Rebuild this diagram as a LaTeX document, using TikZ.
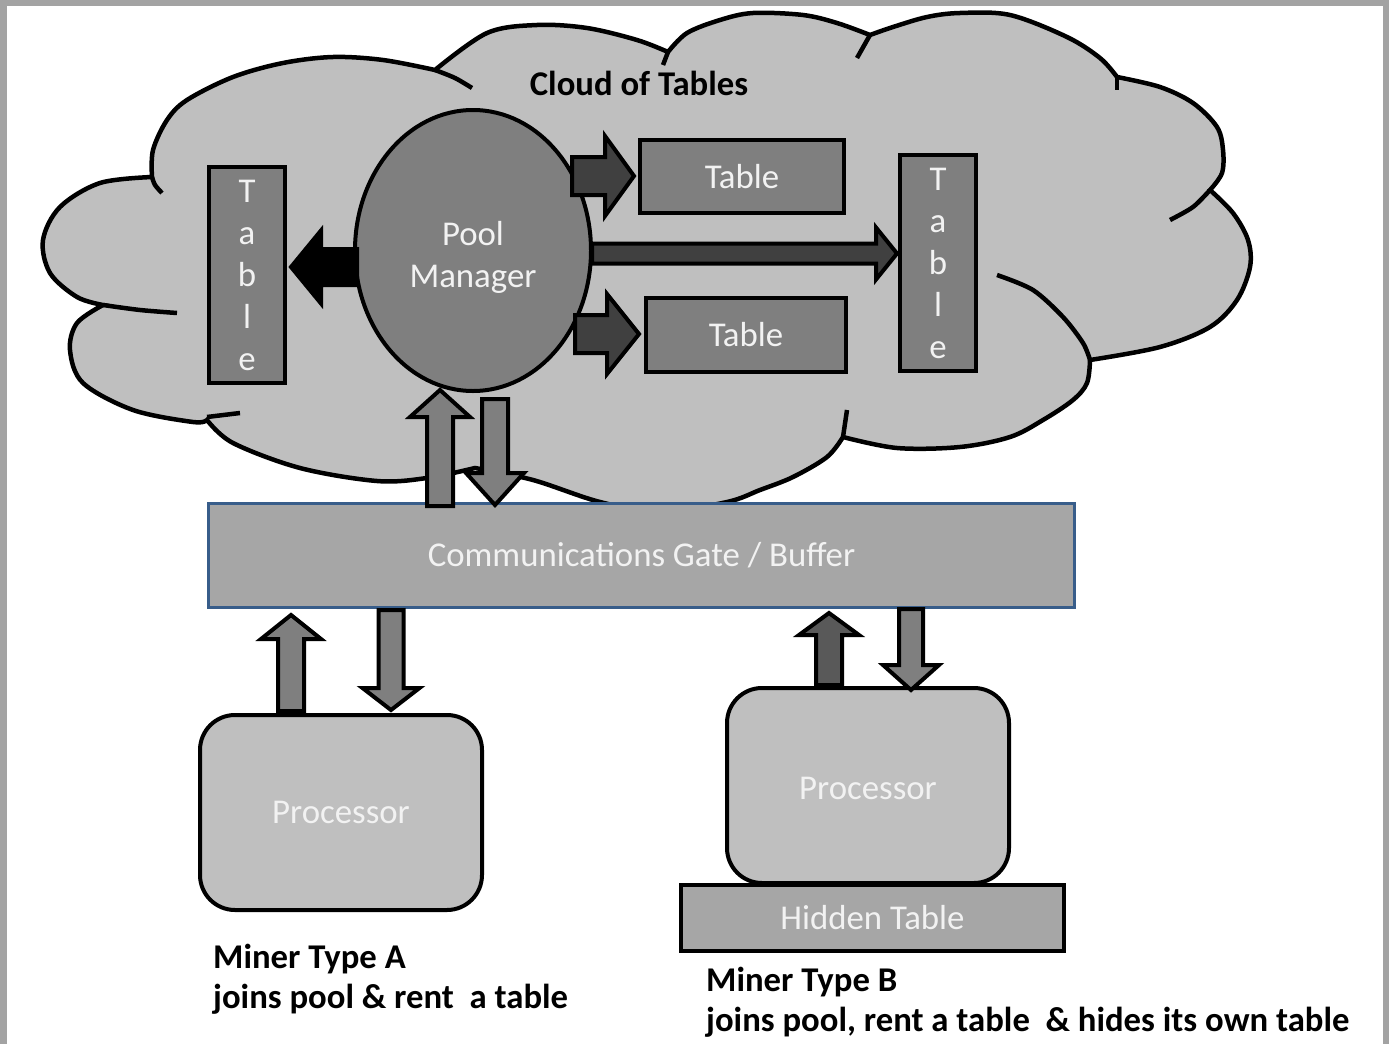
\documentclass[tikz,border=0pt]{standalone}
\usepackage{fontspec}
\setmainfont{Carlito}
\usetikzlibrary{shapes.geometric}
\definecolor{cloudgray}{HTML}{BFBFBF}
\definecolor{midgray}{HTML}{7F7F7F}
\definecolor{deepgray}{HTML}{404040}
\definecolor{arrowdark}{HTML}{595959}
\definecolor{gategray}{HTML}{A6A6A6}
\definecolor{gateblue}{HTML}{385D8A}
\definecolor{framegray}{HTML}{A3A3A3}
\definecolor{labelwhite}{HTML}{F2F2F2}
% horizontal block arrow: style, tail x, tip x, centre y, body half, head half, head base x
\newcommand{\blockH}[7]{\draw[#1] (#2,#4-#5) -- (#7,#4-#5) -- (#7,#4-#6) -- (#3,#4) -- (#7,#4+#6) -- (#7,#4+#5) -- (#2,#4+#5) -- cycle;}
% vertical block arrow: style, tail y, tip y, centre x, body half, head half, head base y
\newcommand{\blockV}[7]{\draw[#1] (#4-#5,#2) -- (#4-#5,#7) -- (#4-#6,#7) -- (#4,#3) -- (#4+#6,#7) -- (#4+#5,#7) -- (#4+#5,#2) -- cycle;}
\begin{document}
\begin{tikzpicture}[x=1pt,y=-1pt,
  cloudline/.style={draw=black, line width=4.5pt},
  outline/.style={draw=black, line width=4pt, line join=miter},
  lbl/.style={text=labelwhite, font=\fontsize{34.8}{42}\selectfont, align=center},
  tablebox/.style={outline, fill=midgray, rectangle, inner sep=0pt, lbl},
  procbox/.style={outline, fill=cloudgray, rectangle, rounded corners=35pt, inner sep=0pt, lbl, minimum width=282pt, minimum height=195pt},
  arrowgray/.style={outline, fill=midgray},
  arrowdeep/.style={outline, fill=deepgray},
  arrowblack/.style={outline, fill=black},
  arrowdim/.style={outline, fill=arrowdark},
  caption/.style={font=\fontsize{34.7}{40}\selectfont\bfseries, text=black, inner sep=0pt, anchor=base west},
]
\useasboundingbox (0,0) rectangle (1389,1044);
% frame
\fill[framegray] (0,0) rectangle (1389,6);
\fill[framegray] (0,0) rectangle (7,1044);
\fill[framegray] (1383,0) rectangle (1389,1044);

% cloud
\path[cloudline, fill=cloudgray, line join=miter]
  plot[smooth,tension=0.55] coordinates {(152,177) (153,150) (167,120) (187,100) (233,77) (283,63) (333,57) (383,60) (435,70)}
  -- plot[smooth,tension=0.55] coordinates {(435,70) (487,33) (537,25) (587,28) (637,40) (668,52)}
  -- plot[smooth,tension=0.55] coordinates {(668,52) (687,33) (720,20) (753,13) (803,15) (837,23) (870,35)}
  -- plot[smooth,tension=0.55] coordinates {(870,35) (893,27) (927,17) (960,13) (1010,15) (1067,37) (1100,58) (1117,77)}
  -- plot[smooth,tension=0.55] coordinates {(1117,77) (1160,87) (1193,103) (1217,127) (1223,150) (1222,173) (1210,190)}
  -- plot[smooth,tension=0.55] coordinates {(1210,190) (1233,213) (1248,240) (1250,267) (1237,300) (1210,327) (1160,347) (1090,360)}
  -- plot[smooth,tension=0.55] coordinates {(1090,360) (1087,383) (1073,400) (1043,420) (1010,437) (960,447) (897,448) (843,437)}
  -- plot[smooth,tension=0.55] coordinates {(843,437) (827,457) (793,477) (760,490) (727,502) (660,512) (600,502) (533,480) (475,468)}
  -- plot[smooth,tension=0.55] coordinates {(475,468) (427,478) (377,481) (300,468) (233,443) (207,420)}
  -- plot[smooth,tension=0.55] coordinates {(207,420) (193,422) (133,410) (83,383) (70,350) (77,323) (103,305)}
  -- plot[smooth,tension=0.55] coordinates {(103,305) (77,297) (50,273) (43,240) (60,207) (100,183) (152,177)}
  -- cycle;
% interior strokes of the cloud
\draw[cloudline] plot[smooth] coordinates {(152,177) (155,185) (162,193)};
\draw[cloudline] plot[smooth] coordinates {(435,70) (455,78) (472,88)};
\draw[cloudline] (668,52) -- (663,65);
\draw[cloudline] (870,35) -- (857,58);
\draw[cloudline] (1117,77) -- (1117,90);
\draw[cloudline] plot[smooth] coordinates {(1210,190) (1193,207) (1170,220)};
\draw[cloudline] plot[smooth] coordinates {(997,275) (1033,290) (1063,317) (1083,343) (1090,360)};
\draw[cloudline] (843,437) -- (847,410);
\draw[cloudline] plot[smooth] coordinates {(103,305) (140,310) (177,313)};
\draw[cloudline] (207,417) -- (240,413);

\node[font=\fontsize{34.7}{40}\selectfont\bfseries, inner sep=0pt, anchor=base] (title) at (639,95) {Cloud of Tables};

% tables
\node[tablebox, minimum width=76pt, minimum height=216pt] (ltable) at (247,275) {T\\a\\b\\l\\e};
\node[tablebox, minimum width=76pt, minimum height=216pt] (rtable) at (938,263) {T\\a\\b\\l\\e};
\node[tablebox, minimum width=204pt, minimum height=73pt] (ttable) at (742,176.5) {Table};
\node[tablebox, minimum width=200pt, minimum height=74pt] (btable) at (746,335) {Table};

% pool manager
\node[outline, ellipse, fill=midgray, minimum width=236pt, minimum height=281pt, inner sep=0pt] (pool) at (473,250.5) {};
\node[lbl, inner sep=0pt] (poollabel) at (473,257) {Pool\\Manager};

% arrows from the pool manager
\blockH{arrowblack}{357}{291}{267}{18}{36.5}{321}
\blockH{arrowdeep}{572}{634}{176}{19}{40}{605}
\blockH{arrowdeep}{575}{639}{334}{19}{40}{607}
\blockH{arrowdeep}{592}{897}{253.5}{10}{26}{876}

% gate
\node[draw=gateblue, line width=3pt, fill=gategray, minimum width=866pt, minimum height=104pt, inner sep=0pt, lbl] (gate) at (641.5,555.5) {Communications Gate / Buffer};

% arrows between gate and pool manager
\blockV{arrowgray}{506}{390}{440}{13}{30}{417}
\blockV{arrowgray}{399}{505}{495}{13}{29}{473}

% processors
\node[procbox] (procA) at (341,812.5) {Processor};
\node[procbox] (procB) at (868,785.5) {};
\node[lbl, inner sep=0pt] (procBlabel) at (868,788) {Processor};
\node[outline, fill=gategray, minimum width=383pt, minimum height=66pt, inner sep=0pt, lbl] (hidden) at (872.5,918) {Hidden Table};

% arrows between gate and processors
\blockV{arrowgray}{711}{615}{291}{13}{30}{639}
\blockV{arrowgray}{610}{710}{391}{12.5}{28.5}{688}
\blockV{arrowdim}{685}{613}{829}{13}{30}{635}
\blockV{arrowgray}{609}{690}{911}{12}{28}{665}

% captions
\node[caption] (minerA) at (213,968) {Miner Type A};
\node[caption] (minerAdesc) at (213,1008) {joins pool \& rent\ \ a table};
\node[caption] (minerB) at (706,991) {Miner Type B};
\node[caption] (minerBdesc) at (706,1031) {joins pool, rent a table\ \ \& hides its own table};
\end{tikzpicture}
\end{document}
